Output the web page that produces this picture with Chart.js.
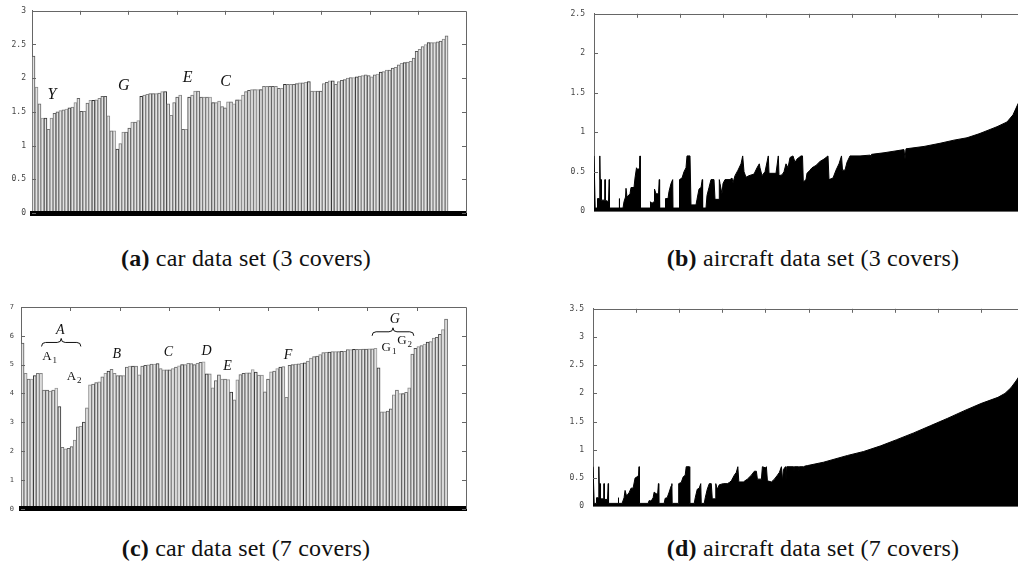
<!DOCTYPE html>
<html>
<head>
<meta charset="utf-8">
<script src="https://cdn.jsdelivr.net/npm/chart.js@4.4.1/dist/chart.umd.min.js"></script>
<style>
  body { margin: 0; background: #fff; width: 1018px; height: 575px; overflow: hidden; position: relative; }
  .box { position: absolute; }
  .cap { position: absolute; font-family: "Liberation Serif", serif; font-size: 24px; line-height: 24px;
         color: #111; white-space: nowrap; text-align: center; letter-spacing: 0.2px; }
</style>
</head>
<body>
<div class="box" style="left:0;top:0;width:480px;height:225px"><canvas id="carThree"></canvas></div>
<div class="box" style="left:560px;top:0;width:470px;height:225px"><canvas id="airThree"></canvas></div>
<div class="box" style="left:0;top:295px;width:480px;height:225px"><canvas id="carSeven"></canvas></div>
<div class="box" style="left:560px;top:295px;width:470px;height:225px"><canvas id="airSeven"></canvas></div>

<div class="cap" style="left:0;top:246px;width:492px"><b>(a)</b> car data set (3 covers)</div>
<div class="cap" style="left:583px;top:246px;width:460px"><b>(b)</b> aircraft data set (3 covers)</div>
<div class="cap" style="left:0;top:536px;width:492px"><b>(c)</b> car data set (7 covers)</div>
<div class="cap" style="left:583px;top:536px;width:460px"><b>(d)</b> aircraft data set (7 covers)</div>

<script>
'use strict';

// car data set: 139 records, the axis has room for 145
let carSlots = Array.from({length: 145}, (_, i) => i + 1);

let carThree = [
  2.33, 1.87, 1.62, 1.41, 1.41, 1.24, 1.41, 1.48, 1.50, 1.52,
  1.53, 1.54, 1.56, 1.57, 1.64, 1.70, 1.51, 1.51, 1.63, 1.67,
  1.67, 1.68, 1.70, 1.73, 1.73, 1.44, 1.22, 1.22, 0.95, 1.03,
  1.20, 1.20, 1.26, 1.35, 1.35, 1.37, 1.73, 1.75, 1.76, 1.77,
  1.77, 1.77, 1.78, 1.80, 1.80, 1.62, 1.45, 1.64, 1.72, 1.75,
  1.24, 1.24, 1.72, 1.75, 1.81, 1.81, 1.72, 1.72, 1.72, 1.72,
  1.64, 1.64, 1.66, 1.58, 1.56, 1.65, 1.65, 1.62, 1.68, 1.68,
  1.75, 1.80, 1.82, 1.83, 1.83, 1.83, 1.83, 1.88, 1.88, 1.88,
  1.88, 1.88, 1.85, 1.85, 1.91, 1.91, 1.91, 1.91, 1.92, 1.93,
  1.93, 1.94, 1.95, 1.81, 1.81, 1.81, 1.81, 1.92, 1.94, 1.96,
  1.96, 1.91, 1.95, 1.97, 1.98, 2.00, 2.01, 2.01, 2.02, 2.03,
  2.04, 2.05, 2.04, 2.02, 2.05, 2.06, 2.09, 2.10, 2.12, 2.12,
  2.15, 2.16, 2.20, 2.22, 2.23, 2.24, 2.25, 2.30, 2.40, 2.43,
  2.47, 2.50, 2.53, 2.53, 2.53, 2.54, 2.55, 2.58, 2.63
];

let carSeven = [
  5.75, 4.70, 4.50, 4.50, 4.62, 4.70, 4.70, 4.12, 4.12, 4.08,
  4.12, 4.19, 3.55, 2.13, 2.08, 2.10, 2.16, 2.38, 2.84, 2.86,
  3.01, 3.50, 4.30, 4.33, 4.38, 4.40, 4.58, 4.70, 4.78, 4.84,
  4.70, 4.62, 4.62, 4.62, 4.92, 4.95, 4.95, 4.95, 4.65, 4.95,
  4.98, 4.99, 5.02, 5.02, 5.04, 4.86, 4.82, 4.82, 4.82, 4.86,
  4.92, 4.96, 5.00, 5.00, 5.05, 5.04, 5.00, 5.05, 5.08, 5.10,
  4.68, 4.68, 4.20, 4.45, 4.65, 4.50, 4.50, 4.48, 4.05, 3.78,
  4.47, 4.66, 4.70, 4.72, 4.72, 4.83, 4.74, 4.64, 4.64, 4.06,
  4.50, 4.75, 4.78, 4.86, 4.92, 4.93, 3.87, 4.98, 5.00, 5.02,
  5.03, 5.05, 5.06, 5.12, 5.23, 5.28, 5.30, 5.35, 5.42, 5.43,
  5.44, 5.45, 5.45, 5.45, 5.46, 5.46, 5.52, 5.52, 5.53, 5.53,
  5.53, 5.54, 5.54, 5.55, 5.55, 5.57, 4.89, 3.36, 3.36, 3.39,
  3.47, 3.95, 4.12, 4.00, 4.00, 4.04, 4.20, 5.37, 5.57, 5.63,
  5.66, 5.71, 5.78, 5.80, 5.92, 5.95, 6.05, 6.22, 6.58
];

// aircraft data set: rank along the x axis (0..430) and value
let airThreeRank = [
  0, 0.8, 1.2, 3, 3.5, 5.5, 5.8, 6.2, 7, 7.5,
  10.8, 11, 11.3, 14.5, 15.2, 15.5, 25, 25.3, 25.6, 29,
  30, 31.5, 32, 33, 36, 37, 40, 41, 42.5, 44,
  45.5, 46, 46.3, 56, 56.5, 58, 60, 60.5, 62, 64.5,
  65.3, 65.6, 71, 71.5, 74, 75, 77, 78.7, 79, 85,
  85.5, 88, 90, 92, 93, 96, 97, 102, 103, 105,
  107, 108.3, 108.6, 112, 113, 115, 117, 120, 121, 125,
  125.3, 126, 128, 129, 131, 136, 138, 139, 141, 144,
  147, 148.7, 150, 152, 155, 160, 163, 165.3, 166, 168,
  171, 174.3, 175, 182, 184.3, 185, 188, 190, 192, 194,
  196, 199, 201, 203, 207, 208.5, 209.3, 212, 213, 216,
  218, 222, 226, 230, 234, 235, 239, 242, 245, 247.5,
  248.5, 251, 253, 256, 266, 276, 276.7, 277.5, 290, 300,
  310, 311, 312, 330, 346, 360, 373, 385, 393, 403,
  413, 419, 424, 430
];
let airThree = [
  0.70, 0.70, 0.04, 0.04, 0.16, 0.16, 0.70, 0.40, 0.40, 0.14,
  0.14, 0.40, 0.14, 0.12, 0.40, 0.04, 0.04, 0.16, 0.04, 0.04,
  0.12, 0.18, 0.29, 0.18, 0.22, 0.30, 0.30, 0.42, 0.55, 0.52,
  0.55, 0.70, 0.04, 0.04, 0.12, 0.10, 0.12, 0.28, 0.22, 0.22,
  0.40, 0.04, 0.04, 0.16, 0.16, 0.25, 0.35, 0.40, 0.04, 0.04,
  0.40, 0.42, 0.50, 0.55, 0.70, 0.70, 0.08, 0.08, 0.15, 0.28,
  0.30, 0.40, 0.04, 0.04, 0.20, 0.30, 0.40, 0.40, 0.15, 0.15,
  0.40, 0.35, 0.22, 0.35, 0.40, 0.40, 0.42, 0.36, 0.45, 0.52,
  0.60, 0.70, 0.50, 0.43, 0.45, 0.47, 0.55, 0.60, 0.55, 0.45,
  0.50, 0.70, 0.48, 0.48, 0.70, 0.45, 0.46, 0.50, 0.60, 0.55,
  0.68, 0.70, 0.62, 0.66, 0.70, 0.70, 0.37, 0.40, 0.48, 0.52,
  0.55, 0.58, 0.63, 0.66, 0.70, 0.40, 0.42, 0.52, 0.60, 0.70,
  0.52, 0.52, 0.62, 0.70, 0.70, 0.71, 0.64, 0.72, 0.74, 0.76,
  0.78, 0.66, 0.79, 0.82, 0.86, 0.90, 0.93, 0.98, 1.02, 1.07,
  1.13, 1.22, 1.36, 1.50
];

let airSevenRank = [
  0, 0.8, 1.2, 3, 3.5, 5.5, 5.8, 6.2, 7, 7.5,
  10.8, 11, 11.3, 14.5, 15.2, 15.5, 25, 25.3, 25.6, 29,
  31, 32, 33.5, 36, 38, 40, 42, 44, 45.5, 46,
  46.3, 55, 56, 58, 60, 61, 63, 64.5, 65.3, 65.6,
  71, 72, 74, 76, 78, 78.7, 79, 85, 85.5, 88,
  90, 92, 93, 96, 96.5, 101, 102, 104, 106, 107.5,
  108, 111, 112, 114, 116, 118, 119, 122, 122.5, 124,
  126, 130, 134, 136, 138, 141, 143, 144.5, 145.5, 150,
  154, 158, 161, 163, 164, 168, 169, 172, 173, 174,
  178, 181, 184, 186, 188, 189, 190, 192, 192.5, 193.5,
  200, 200.5, 201, 205, 205.5, 206, 210, 210.5, 211, 214,
  230, 254, 270, 287, 303, 320, 337, 354, 370, 387,
  404, 411, 417, 422, 425, 430
];
let airSeven = [
  0.70, 0.70, 0.05, 0.05, 0.15, 0.15, 0.70, 0.40, 0.40, 0.13,
  0.13, 0.40, 0.12, 0.12, 0.40, 0.05, 0.05, 0.15, 0.05, 0.05,
  0.15, 0.28, 0.18, 0.24, 0.32, 0.32, 0.50, 0.52, 0.55, 0.70,
  0.05, 0.05, 0.10, 0.09, 0.15, 0.25, 0.22, 0.22, 0.40, 0.05,
  0.05, 0.14, 0.15, 0.25, 0.36, 0.40, 0.05, 0.05, 0.40, 0.42,
  0.52, 0.55, 0.70, 0.70, 0.05, 0.05, 0.15, 0.30, 0.32, 0.40,
  0.05, 0.05, 0.15, 0.30, 0.40, 0.40, 0.13, 0.13, 0.40, 0.30,
  0.38, 0.40, 0.40, 0.42, 0.45, 0.55, 0.60, 0.70, 0.43, 0.43,
  0.48, 0.55, 0.62, 0.62, 0.48, 0.48, 0.70, 0.68, 0.70, 0.45,
  0.43, 0.48, 0.55, 0.60, 0.70, 0.45, 0.65, 0.70, 0.45, 0.70,
  0.70, 0.62, 0.70, 0.70, 0.63, 0.70, 0.70, 0.64, 0.71, 0.72,
  0.78, 0.90, 0.97, 1.07, 1.18, 1.30, 1.43, 1.56, 1.69, 1.82,
  1.93, 2.00, 2.10, 2.22, 2.30, 2.45
];

// cluster labels written on the car plots (category position, value)
let carThreeNotes = [
  {text: 'Y', at: 6.2, value: 1.76},
  {text: 'G', at: 30.2, value: 1.88},
  {text: 'E', at: 51.5, value: 2.0},
  {text: 'C', at: 64.2, value: 1.94}
];
let carSevenNotes = [
  {text: 'A', at: 12.3, value: 6.18},
  {text: 'A', sub: '1', at: 8.8, value: 5.29, roman: true},
  {text: 'A', sub: '2', at: 16.8, value: 4.57, roman: true},
  {text: 'B', at: 30.7, value: 5.36},
  {text: 'C', at: 47.5, value: 5.43},
  {text: 'D', at: 60, value: 5.46},
  {text: 'E', at: 66.8, value: 4.95},
  {text: 'F', at: 86.5, value: 5.32},
  {text: 'G', at: 121.3, value: 6.59},
  {text: 'G', sub: '1', at: 119.4, value: 5.6, roman: true},
  {text: 'G', sub: '2', at: 124.5, value: 5.84, roman: true}
];
let carSevenBraces = [
  {from: 6.2, to: 19, value: 5.77},
  {from: 113.9, to: 127.5, value: 6.14}
];

// frame with inward ticks like the original plots
const framePlugin = {
  id: 'frame',
  afterDraw(chart, args, opts) {
    const ctx = chart.ctx;
    const a = chart.chartArea;
    const yScale = chart.scales.y;
    ctx.save();
    ctx.strokeStyle = '#666';
    ctx.lineWidth = 1;
    ctx.beginPath();
    ctx.moveTo(Math.round(a.left) + 0.5, Math.round(a.top) + 0.5);
    ctx.lineTo(Math.round(a.right) + 0.5, Math.round(a.top) + 0.5);
    ctx.lineTo(Math.round(a.right) + 0.5, Math.round(a.bottom));
    for (let k = 1; k < opts.topTicks; k++) {
      let px = Math.round(a.left + (a.right - a.left) * k / opts.topTicks) + 0.5;
      ctx.moveTo(px, a.top);
      ctx.lineTo(px, a.top + 4);
    }
    yScale.ticks.forEach(t => {
      let py = Math.round(yScale.getPixelForValue(t.value)) + 0.5;
      ctx.moveTo(a.left, py);
      ctx.lineTo(a.left + 4, py);
      ctx.moveTo(a.right - 4, py);
      ctx.lineTo(a.right, py);
    });
    ctx.stroke();
    ctx.restore();
  }
};

function drawBrace(ctx, x0, x1, y) {
  let m = (x0 + x1) / 2;
  ctx.beginPath();
  ctx.moveTo(x0, y + 4);
  ctx.quadraticCurveTo(x0, y, x0 + 4, y);
  ctx.lineTo(m - 4, y);
  ctx.quadraticCurveTo(m, y, m, y - 4);
  ctx.quadraticCurveTo(m, y, m + 4, y);
  ctx.lineTo(x1 - 4, y);
  ctx.quadraticCurveTo(x1, y, x1, y + 4);
  ctx.stroke();
}

const notesPlugin = {
  id: 'notes',
  afterDatasetsDraw(chart, args, opts) {
    const ctx = chart.ctx;
    const xs = chart.scales.x, ys = chart.scales.y;
    ctx.save();
    ctx.fillStyle = '#111';
    ctx.strokeStyle = '#111';
    ctx.lineWidth = 1;
    ctx.textBaseline = 'middle';
    (opts.labels || []).forEach(n => {
      let px = xs.getPixelForValue(n.at), py = ys.getPixelForValue(n.value);
      if (n.roman) {
        ctx.font = '13px "Liberation Serif"';
        ctx.textAlign = 'right';
        ctx.fillText(n.text, px + 2, py);
        ctx.font = '9px "Liberation Serif"';
        ctx.textAlign = 'left';
        ctx.fillText(n.sub, px + 3, py + 4);
      } else {
        ctx.font = 'italic ' + opts.size + 'px "Liberation Serif"';
        ctx.textAlign = 'center';
        ctx.fillText(n.text, px, py);
      }
    });
    (opts.braces || []).forEach(b => {
      drawBrace(ctx, xs.getPixelForValue(b.from), xs.getPixelForValue(b.to), ys.getPixelForValue(b.value));
    });
    ctx.restore();
  }
};

let barShades = ['#555', '#888', '#666', '#999', '#333', '#777', '#888', '#666'];

function tickFont(size) {
  return {family: '"DejaVu Sans Mono", monospace', size: size};
}

// plain numbers on the y axis: 3, 2.5, 2 ... like the original
function plainTick(v) {
  return String(v);
}

function carChart(id, values, yMax, yStep, geom, notes, braces) {
  return new Chart(document.getElementById(id), {
    type: 'bar',
    data: {
      labels: carSlots,
      datasets: [{
        data: values,
        backgroundColor: '#e2e2e2',
        borderColor: c => barShades[c.dataIndex % barShades.length],
        borderWidth: {left: 1, top: 1, right: 1, bottom: 0},
        borderSkipped: false,
        categoryPercentage: 1,
        barPercentage: 1
      }]
    },
    options: {
      responsive: true,
      maintainAspectRatio: false,
      devicePixelRatio: 1,
      animation: false,
      layout: {padding: {top: geom.top, right: geom.right, left: 0, bottom: 0}},
      scales: {
        x: {
          ticks: {display: false},
          grid: {display: false, drawTicks: false},
          border: {display: true, color: '#000', width: 5, z: 1},
          afterFit: s => { s.height = geom.bottom; }
        },
        y: {
          min: 0,
          max: yMax,
          ticks: {stepSize: yStep, font: tickFont(geom.font), color: '#444', padding: geom.pad, callback: plainTick},
          grid: {display: false, drawTicks: false},
          border: {display: true, color: '#666', width: 1},
          afterFit: s => { s.width = geom.left; }
        }
      },
      plugins: {
        legend: {display: false},
        tooltip: {enabled: false},
        frame: {topTicks: 9},
        notes: {labels: notes, braces: braces, size: geom.noteSize}
      }
    },
    plugins: [framePlugin, notesPlugin]
  });
}

function airChart(id, ranks, values, yMax, geom) {
  return new Chart(document.getElementById(id), {
    type: 'line',
    data: {
      datasets: [{
        data: ranks.map((r, i) => ({x: r, y: values[i]})),
        fill: 'origin',
        backgroundColor: '#000',
        borderColor: '#000',
        borderWidth: 1,
        pointRadius: 0,
        tension: 0
      }]
    },
    options: {
      responsive: true,
      maintainAspectRatio: false,
      devicePixelRatio: 1,
      animation: false,
      layout: {padding: {top: geom.top, right: geom.right, left: 0, bottom: 0}},
      scales: {
        x: {
          type: 'linear',
          min: 0,
          max: 430,
          ticks: {display: false},
          grid: {display: false, drawTicks: false},
          border: {display: true, color: '#666', width: 1},
          afterFit: s => { s.height = geom.bottom; }
        },
        y: {
          min: 0,
          max: yMax,
          ticks: {stepSize: 0.5, font: tickFont(8), color: '#444', padding: geom.pad, callback: plainTick},
          grid: {display: false, drawTicks: false},
          border: {display: true, color: '#666', width: 1},
          afterFit: s => { s.width = geom.left; }
        }
      },
      plugins: {
        legend: {display: false},
        tooltip: {enabled: false},
        frame: {topTicks: 10},
        notes: {}
      }
    },
    plugins: [framePlugin, notesPlugin]
  });
}

carChart('carThree', carThree, 3, 0.5,
  {left: 32, top: 9, right: 14, bottom: 12, pad: 6, font: 8, noteSize: 16},
  carThreeNotes, []);
airChart('airThree', airThreeRank, airThree, 2.5,
  {left: 34, top: 9, right: 6, bottom: 12, pad: 9});
carChart('carSeven', carSeven, 7, 1,
  {left: 21, top: 12, right: 14, bottom: 8, pad: 7, font: 7, noteSize: 14},
  carSevenNotes, carSevenBraces);
airChart('airSeven', airSevenRank, airSeven, 3.5,
  {left: 33, top: 13, right: 6, bottom: 7, pad: 9});
</script>
</body>
</html>
